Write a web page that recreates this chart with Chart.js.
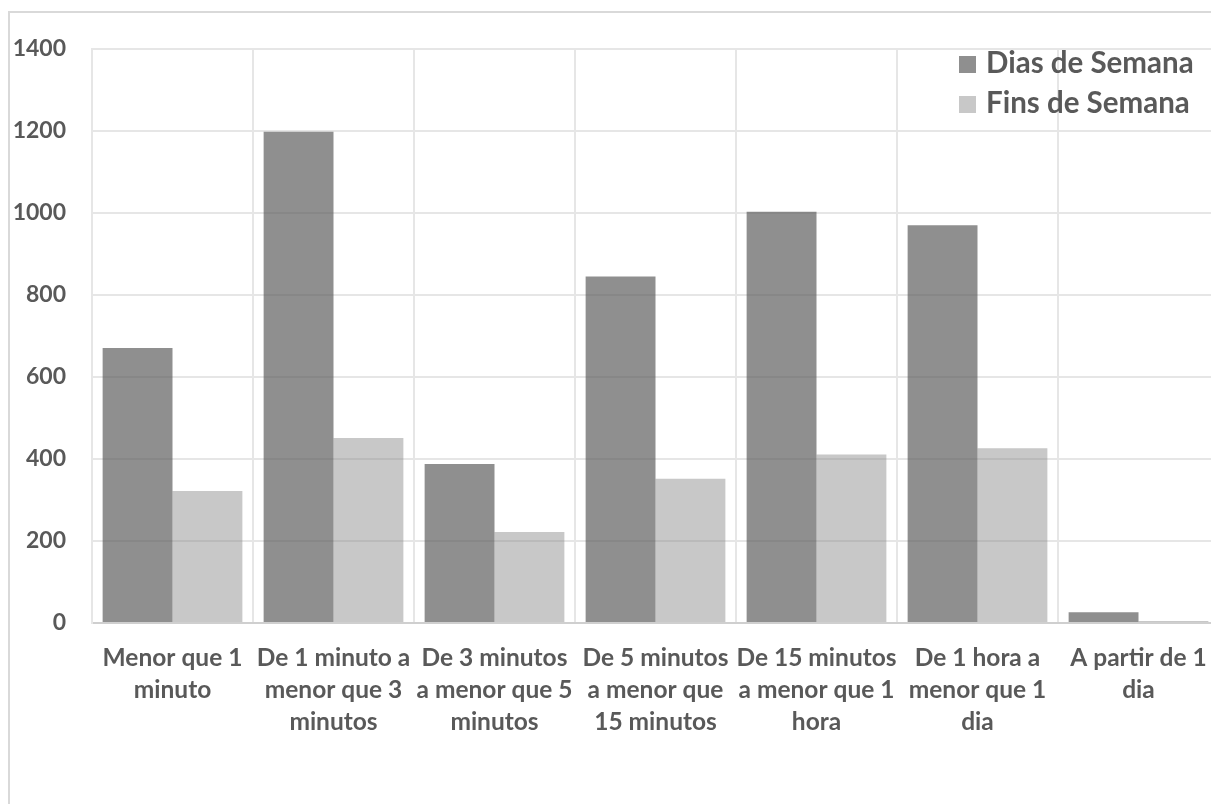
<!DOCTYPE html>
<html lang="pt">
<head>
<meta charset="utf-8">
<title>Dias de Semana e Fins de Semana</title>
<script src="https://cdn.jsdelivr.net/npm/chart.js@4.4.1/dist/chart.umd.min.js"></script>
<style>
  html, body { margin: 0; padding: 0; background: #ffffff; overflow: hidden; width: 1211px; height: 804px; }
  #frame { position: absolute; left: 8px; top: 11px; width: 1226px; height: 820px; border: 2px solid #d9d9d9; box-sizing: border-box; }
  #chart { position: absolute; left: 0; top: 0; }
</style>
</head>
<body>
<div id="frame"></div>
<canvas id="chart" width="1240" height="804"></canvas>
<script>
// Duration buckets (each label split into its display lines)
const categories = [
  ["Menor que 1", "minuto"],
  ["De 1 minuto a", "menor que 3", "minutos"],
  ["De 3 minutos", "a menor que 5", "minutos"],
  ["De 5 minutos", "a menor que", "15 minutos"],
  ["De 15 minutos", "a menor que 1", "hora"],
  ["De 1 hora a", "menor que 1", "dia"],
  ["A partir de 1", "dia"]
];
const seriesNames = ["Dias de Semana", "Fins de Semana"];
const weekdayCounts = [671, 1198, 388, 845, 1003, 970, 26];
const weekendCounts = [322, 451, 222, 352, 411, 426, 5];
const yTickValues = [0, 200, 400, 600, 800, 1000, 1200, 1400];

const TEXT_COLOR = '#595959';
const FONT_FAMILY = 'Lato, "DejaVu Sans", sans-serif';

// Legend drawn in the top-right corner of the plot area
const cornerLegend = {
  id: 'cornerLegend',
  afterDraw(chart, args, opts) {
    const ctx = chart.ctx;
    ctx.save();
    ctx.font = 'bold ' + opts.fontSize + 'px ' + FONT_FAMILY;
    ctx.textAlign = 'left';
    ctx.textBaseline = 'alphabetic';
    chart.data.datasets.forEach((ds, i) => {
      const y = opts.top + i * opts.spacing;
      ctx.fillStyle = ds.backgroundColor;
      ctx.fillRect(opts.left, y, opts.box, opts.box);
      ctx.fillStyle = TEXT_COLOR;
      ctx.fillText(ds.label, opts.left + opts.box + 10, y + opts.box);
    });
    ctx.restore();
  }
};

new Chart(document.getElementById('chart'), {
  type: 'bar',
  data: {
    labels: categories,
    datasets: [
      {
        label: seriesNames[0],
        data: weekdayCounts,
        backgroundColor: 'rgba(85, 85, 85, 0.66)',
        borderWidth: 0,
        categoryPercentage: 0.868,
        barPercentage: 1.0
      },
      {
        label: seriesNames[1],
        data: weekendCounts,
        backgroundColor: 'rgba(130, 130, 130, 0.44)',
        borderWidth: 0,
        categoryPercentage: 0.868,
        barPercentage: 1.0
      }
    ]
  },
  options: {
    responsive: false,
    animation: false,
    devicePixelRatio: 1,
    layout: { padding: { top: 49, right: 21, left: 0, bottom: 0 } },
    plugins: {
      legend: { display: false },
      tooltip: { enabled: false },
      cornerLegend: { left: 959, top: 56, spacing: 40, box: 17, fontSize: 29.5 }
    },
    scales: {
      x: {
        offset: true,
        grid: { display: true, offset: true, color: '#e6e6e6', lineWidth: 2, drawTicks: false },
        border: { display: true, color: '#cfcfcf', width: 2 },
        ticks: {
          color: TEXT_COLOR,
          font: { family: FONT_FAMILY, size: 24.5, weight: 'bold', lineHeight: '32px' },
          padding: 19,
          maxRotation: 0,
          minRotation: 0,
          autoSkip: false
        },
        afterFit(scale) { scale.height = 804 - 623; }
      },
      y: {
        min: 0,
        max: 1400,
        afterBuildTicks(scale) { scale.ticks = yTickValues.map(v => ({ value: v })); },
        grid: { color: '#e6e6e6', lineWidth: 2, drawTicks: false },
        border: { display: true, color: '#e6e6e6', width: 2 },
        ticks: {
          color: TEXT_COLOR,
          font: { family: FONT_FAMILY, size: 23, weight: 'bold' },
          padding: 26,
          callback: (value) => String(value)
        },
        afterFit(scale) { scale.width = 92; }
      }
    }
  },
  plugins: [cornerLegend]
});
</script>
</body>
</html>
